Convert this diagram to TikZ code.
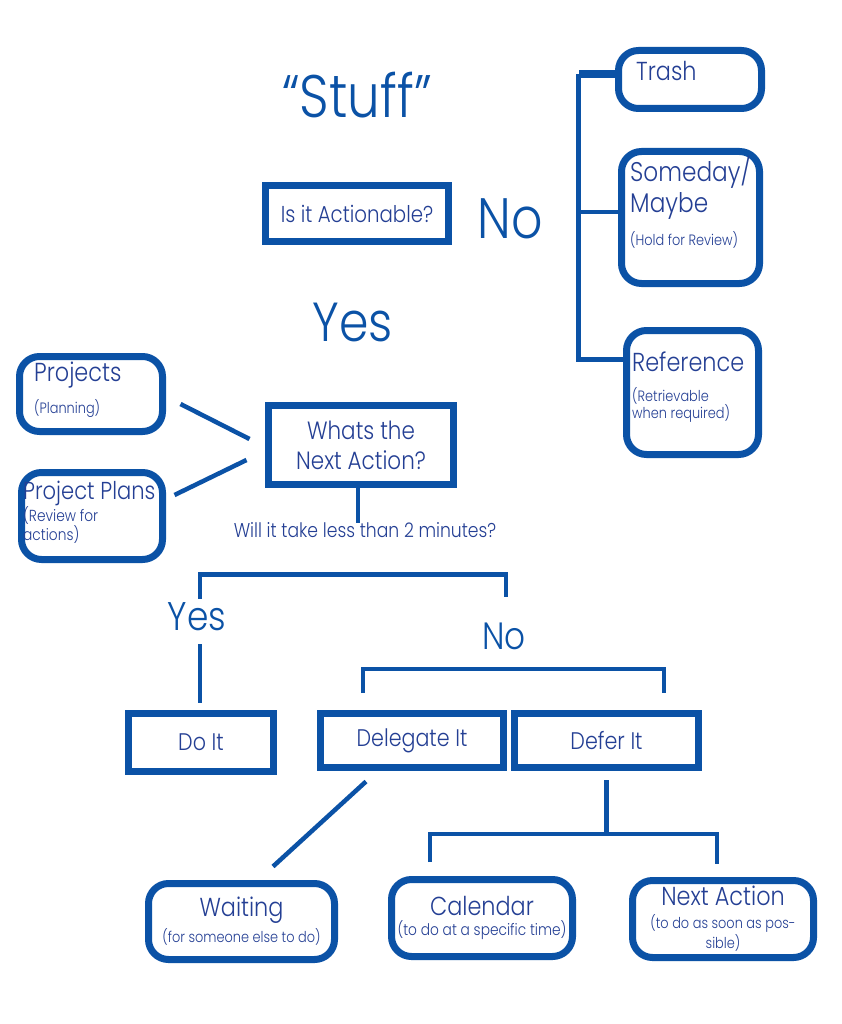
\documentclass[tikz,border=0pt]{standalone}
\usepackage{fontspec}
\setmainfont{Poppins Light}[FakeStretch=0.86]
\usetikzlibrary{positioning}
\definecolor{gtdblue}{HTML}{0B52A6}
\definecolor{gtdink}{HTML}{243F94}
\newcommand\fsz[1]{\fontsize{#1}{#1}\selectfont}

\begin{document}
\begin{tikzpicture}[x=1pt,y=-1pt,
  sqbox/.style={draw=gtdblue,line width=7pt,fill=white,inner sep=0pt,text=gtdink,align=center},
  rdbox/.style={sqbox,rounded corners=20pt},
  wire/.style={draw=gtdblue,line width=4.5pt},
  lbl/.style={text=gtdblue,inner sep=0pt},
  boxtxt/.style={text=gtdink,inner sep=0pt,anchor=west,align=left}]
\fill[white] (0,0) rectangle (841,1024);
\useasboundingbox (0,0) rectangle (841,1024);

\node[lbl,font=\fsz{60}] (stuff) at (357,95) {``Stuff''};
\node[sqbox,minimum width=183pt,minimum height=56pt,font=\fsz{23}] (act) at (357,213.5) {Is it Actionable?};
\node[lbl,font=\fsz{57}] (no1) at (510,219) {No};
\node[lbl,font=\fsz{55}] (yes1) at (353,322) {Yes};

\node[rdbox,minimum width=143pt,minimum height=58pt] (trash) at (690,79.5) {};
\node[rdbox,minimum width=138pt,minimum height=132pt] (some) at (690.5,217.5) {};
\node[rdbox,minimum width=132pt,minimum height=124pt] (ref) at (692.5,392.5) {};
\node[boxtxt,font=\fsz{26}] (trasht) at (636,71) {Trash};
\node[boxtxt,font=\fontsize{27}{31}\selectfont] (somet) at (630,188) {Someday/\\Maybe};
\node[boxtxt,font=\fsz{15}] (somes) at (630,240) {(Hold for Review)};
\node[boxtxt,font=\fsz{26}] (reft) at (632,362) {Reference};
\node[boxtxt,font=\fontsize{15}{15.5}\selectfont] (refs) at (632,405) {(Retrievable\\when required)};

\draw[wire,line width=8pt] ([yshift=5pt]trash.west) -- ++(-36.5,0);
\draw[wire] ([yshift=5pt]trash.west) ++(-36.5,0) |- ([yshift=33pt]ref.west);
\draw[wire] ([yshift=5.5pt]some.west) -- ++(-39.5,0);

\node[rdbox,minimum width=143pt,minimum height=75pt] (proj) at (91,394) {};
\node[rdbox,minimum width=141pt,minimum height=87pt] (plans) at (92,516) {};
\node[boxtxt,font=\fsz{26}] (projt) at (34,375) {Projects};
\node[boxtxt,font=\fsz{15}] (projs) at (34,409) {(Planning)};
\node[boxtxt,font=\fsz{24.5}] (planst) at (23,493) {Project Plans};
\node[boxtxt,font=\fontsize{16}{17}\selectfont] (planss) at (23,525) {(Review for\\actions)};

\node[sqbox,minimum width=185pt,minimum height=79pt,font=\fontsize{25}{30}\selectfont] (next) at (361,445) {Whats the\\Next Action?};
\node[lbl,text=gtdink,font=\fsz{20}] (two) at (365,530) {Will it take less than 2 minutes?};

\draw[wire] ([xshift=14.5pt,yshift=-10pt]proj.east) -- ([xshift=-15.5pt,yshift=6pt]next.west);
\draw[wire] ([xshift=8.5pt,yshift=21pt]plans.east) -- ([xshift=-18.5pt,yshift=-15pt]next.west);
\draw[wire] ([xshift=-3pt]next.south) -- ([xshift=-3pt,yshift=-1pt]next.south |- two.north);

\node[lbl,font=\fsz{40}] (yes2) at (197,617) {Yes};
\node[lbl,font=\fsz{38}] (no2) at (504,636) {No};
\draw[wire] ([xshift=3pt,yshift=4pt]yes2.north) |- ([xshift=2pt,yshift=48pt]no2.north) -- ([xshift=2pt,yshift=25pt]no2.north);

\node[sqbox,minimum width=145pt,minimum height=58pt,font=\fsz{24}] (doit) at (201,742.5) {Do It};
\node[sqbox,minimum width=183pt,minimum height=54pt,font=\fsz{24}] (deleg) at (412,740.5) {Delegate It};
\node[sqbox,minimum width=184pt,minimum height=54pt,font=\fsz{24}] (defer) at (606.5,740.5) {Defer It};

\draw[wire] ([xshift=-1pt,yshift=-13pt]doit.north |- yes2.south) -- ([xshift=-1pt,yshift=7.5pt]doit.north);
\draw[wire] ([xshift=-49pt,yshift=17pt]deleg.north) -- ++(0,-24) -| ([xshift=57.5pt,yshift=17pt]defer.north);

\node[rdbox,minimum width=186pt,minimum height=76pt,font=\fsz{15}] (wait) at (241.5,921.5)
  {{\fsz{26}Waiting}\\[4pt](for someone else to do)};
\node[rdbox,minimum width=181pt,minimum height=77pt,font=\fsz{16}] (cal) at (482,918)
  {{\fsz{26}Calendar}\\[4pt](to do at a specific time)};
\node[rdbox,minimum width=181pt,minimum height=77pt,font=\fontsize{15}{20}\selectfont] (nact) at (723,919)
  {{\fsz{26}Next Action}\\[3pt](to do as soon as pos-\\sible)};

\draw[wire] ([xshift=-46pt,yshift=-10.5pt]deleg.south) -- ([xshift=31.5pt,yshift=13.5pt]wait.north);
\draw[wire] ([yshift=-9pt]defer.south) -- ++(0,56);
\draw[wire] ([xshift=-52pt,yshift=14pt]cal.north) -- ++(0,-28) -| ([xshift=-6pt,yshift=13pt]nact.north);
\end{tikzpicture}
\end{document}
